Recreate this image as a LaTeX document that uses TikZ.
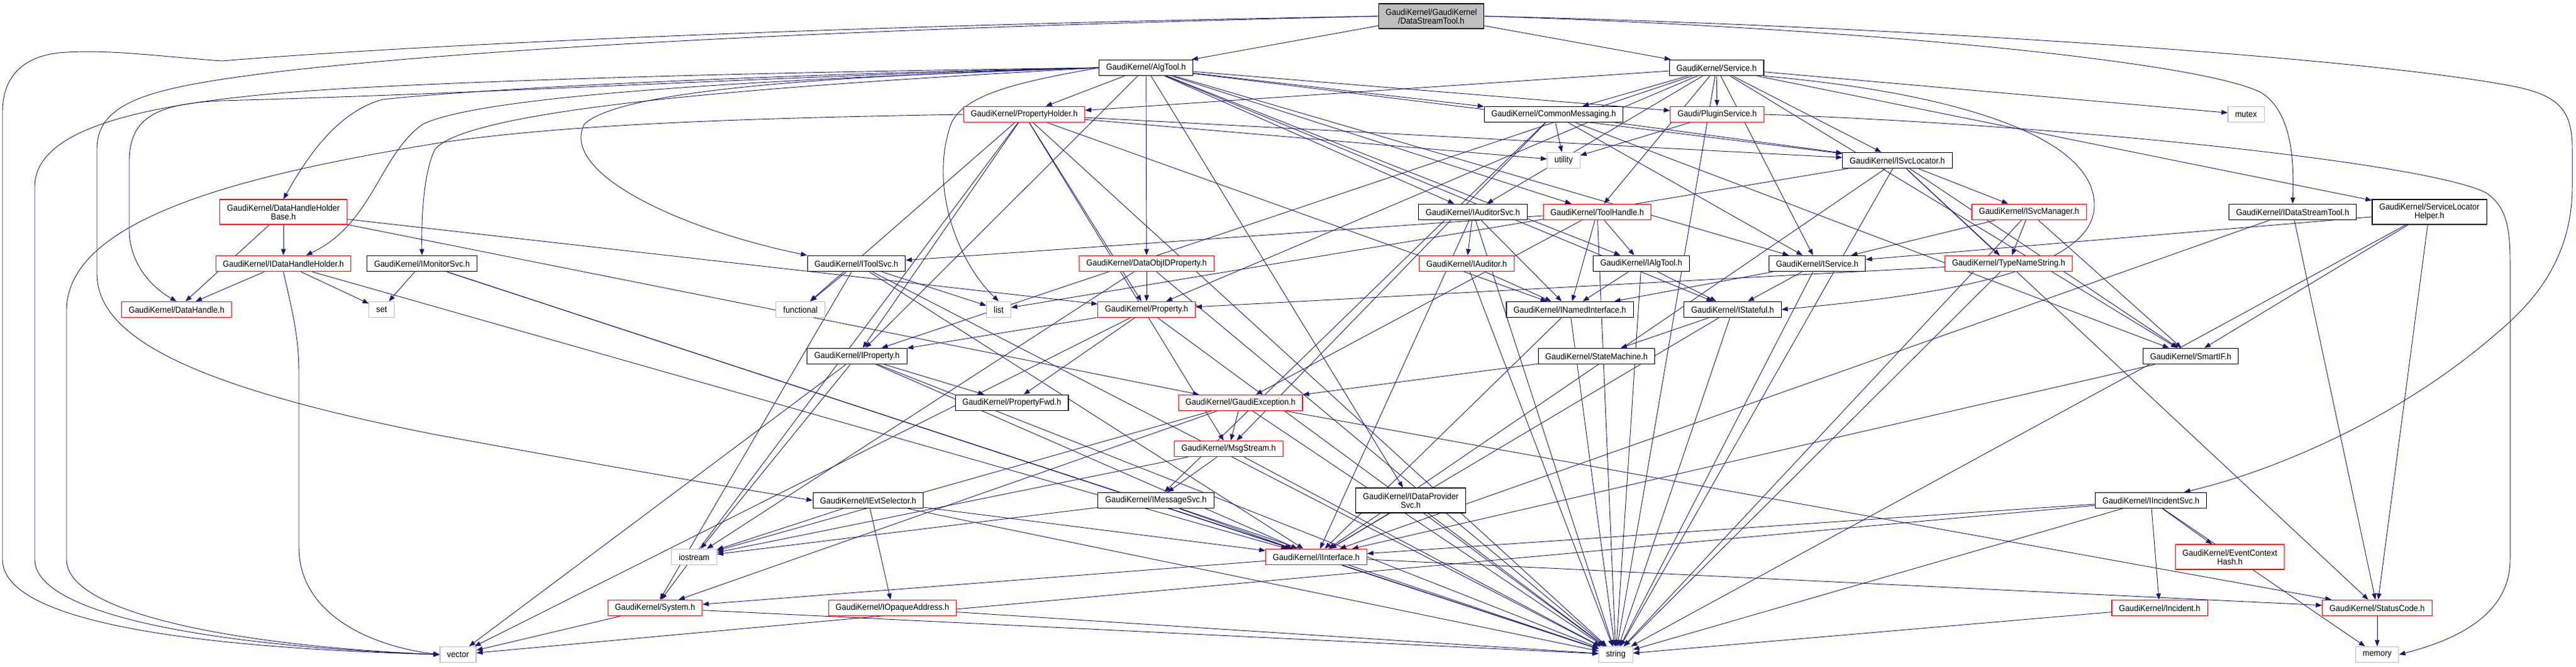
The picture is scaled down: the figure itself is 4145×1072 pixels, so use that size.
\documentclass[tikz,border=0pt]{standalone}
\usepackage{fontspec}
\newfontfamily\dxfont{Liberation Sans}[FakeStretch=0.92]
\usetikzlibrary{arrows.meta,backgrounds}
\definecolor{edgeblue}{RGB}{25,25,112}
\definecolor{sysgray}{RGB}{191,191,191}
\definecolor{rootfill}{RGB}{191,191,191}

\begin{document}
\begin{tikzpicture}[
        x=1pt, y=-1pt,
        hdr/.style={shape=rectangle, draw=black, fill=white, text=black, line width=1.1pt,
          minimum height=25.5pt, inner xsep=11.5pt, inner ysep=0pt, align=center,
          font=\dxfont\fontsize{14}{14}\selectfont},
        hdrred/.style={hdr, draw=red},
        hdrsys/.style={hdr, draw=sysgray},
        hdrroot/.style={hdr, fill=rootfill},
        twoline/.style={minimum height=40pt},
        incl/.style={->, >={Triangle[length=10pt,width=7.5pt]}, line width=0.9pt, edgeblue},
        ]
        \useasboundingbox (0,0) rectangle (4145,1072);
        %
        \node(root)[hdrroot,twoline] at (2303,26) {GaudiKernel/GaudiKernel\\/DataStreamTool.h};
        \node(algtool)[hdr] at (1844,109) {GaudiKernel/AlgTool.h};
        \node(service)[hdr] at (2762,109) {GaudiKernel/Service.h};
        \node(propholder)[hdrred] at (1648,184) {GaudiKernel/PropertyHolder.h};
        \node(commsg)[hdr] at (2500,184) {GaudiKernel/CommonMessaging.h};
        \node(plugin)[hdrred] at (2763,184) {Gaudi/PluginService.h};
        \node(mutex)[hdrsys] at (3614,184) {mutex};
        \node(utility)[hdrsys] at (2516,258) {utility};
        \node(svcloc)[hdr] at (3053,258) {GaudiKernel/ISvcLocator.h};
        \node(dhhbase)[hdrred,twoline] at (456,341) {GaudiKernel/DataHandleHolder\\Base.h};
        \node(audsvc)[hdr] at (2370,341) {GaudiKernel/IAuditorSvc.h};
        \node(toolhandle)[hdrred] at (2570,341) {GaudiKernel/ToolHandle.h};
        \node(svcmgr)[hdrred] at (3265,341) {GaudiKernel/ISvcManager.h};
        \node(idstool)[hdr] at (3689,341) {GaudiKernel/IDataStreamTool.h};
        \node(slhelper)[hdr,twoline] at (3909,341) {GaudiKernel/ServiceLocator\\Helper.h};
        \node(idhholder)[hdrred] at (456,424) {GaudiKernel/IDataHandleHolder.h};
        \node(monsvc)[hdr] at (679,424) {GaudiKernel/IMonitorSvc.h};
        \node(toolsvc)[hdr] at (1378,424) {GaudiKernel/IToolSvc.h};
        \node(dataobjid)[hdrred] at (1845,424) {GaudiKernel/DataObjIDProperty.h};
        \node(auditor)[hdrred] at (2360,424) {GaudiKernel/IAuditor.h};
        \node(ialgtool)[hdr] at (2641,424) {GaudiKernel/IAlgTool.h};
        \node(iservice)[hdr] at (2924,424) {GaudiKernel/IService.h};
        \node(typename)[hdrred] at (3232,424) {GaudiKernel/TypeNameString.h};
        \node(datahandle)[hdrred] at (284,498) {GaudiKernel/DataHandle.h};
        \node(set)[hdrsys] at (614,498) {set};
        \node(functional)[hdrsys] at (1288,498) {functional};
        \node(list)[hdrsys] at (1607,498) {list};
        \node(property)[hdrred] at (1845,498) {GaudiKernel/Property.h};
        \node(named)[hdr] at (2526,498) {GaudiKernel/INamedInterface.h};
        \node(stateful)[hdr] at (2788,498) {GaudiKernel/IStateful.h};
        \node(iproperty)[hdr] at (1379,573) {GaudiKernel/IProperty.h};
        \node(statemach)[hdr] at (2569,573) {GaudiKernel/StateMachine.h};
        \node(smartif)[hdr] at (3525,573) {GaudiKernel/SmartIF.h};
        \node(propfwd)[hdr] at (1628,648) {GaudiKernel/PropertyFwd.h};
        \node(gexcept)[hdrred] at (1996,648) {GaudiKernel/GaudiException.h};
        \node(msgstream)[hdrred] at (1977,722) {GaudiKernel/MsgStream.h};
        \node(evtsel)[hdr] at (1397,805) {GaudiKernel/IEvtSelector.h};
        \node(msgsvc)[hdr] at (1860,805) {GaudiKernel/IMessageSvc.h};
        \node(dataprov)[hdr,twoline] at (2270,805) {GaudiKernel/IDataProvider\\Svc.h};
        \node(incsvc)[hdr] at (3461,805) {GaudiKernel/IIncidentSvc.h};
        \node(iostream)[hdrsys] at (1117,896) {iostream};
        \node(iinterface)[hdrred] at (2118,896) {GaudiKernel/IInterface.h};
        \node(evctxhash)[hdrred,twoline] at (3588,896) {GaudiKernel/EventContext\\Hash.h};
        \node(system)[hdrred] at (1054,978) {GaudiKernel/System.h};
        \node(opaque)[hdrred] at (1436,978) {GaudiKernel/IOpaqueAddress.h};
        \node(statuscode)[hdrred] at (3825,978) {GaudiKernel/StatusCode.h};
        \node(incident)[hdrred] at (3475,978) {GaudiKernel/Incident.h};
        \node(vector)[hdrsys] at (737,1053) {vector};
        \node(string)[hdrsys] at (2600,1053) {string};
        \node(memory)[hdrsys] at (3825,1053) {memory};

        \begin{pgfonlayer}{background}
        % direct includes
        \foreach \a/\b in {root/algtool, root/service,
            algtool/propholder, algtool/commsg, algtool/plugin, algtool/dataobjid, algtool/audsvc,
            algtool/toolhandle, algtool/ialgtool, algtool/iservice, algtool/stateful, algtool/svcloc,
            algtool/iproperty, algtool/dataprov,
            service/propholder, service/commsg, service/plugin, service/svcloc, service/iservice,
            service/audsvc, service/toolhandle, service/property, service/smartif, service/mutex,
            service/slhelper, service/iproperty, service/string,
            propholder/svcloc, propholder/iproperty, propholder/property, propholder/named,
            propholder/utility, propholder/functional, propholder/msgstream, propholder/string,
            propholder/system,
            commsg/utility, commsg/svcloc, commsg/iservice, commsg/smartif, commsg/msgstream,
            commsg/msgsvc,
            plugin/utility,
            svcloc/svcmgr, svcloc/typename, svcloc/iinterface, svcloc/string, svcloc/smartif,
            svcloc/statuscode, svcloc/list,
            dhhbase/datahandle, dhhbase/idhholder, dhhbase/property, dhhbase/gexcept,
            idhholder/datahandle, idhholder/set, idhholder/iinterface,
            monsvc/set, monsvc/iinterface, monsvc/string,
            toolsvc/functional, toolsvc/list, toolsvc/iinterface, toolsvc/string, toolsvc/system,
            dataobjid/property, dataobjid/iostream, dataobjid/string,
            audsvc/auditor, audsvc/named, audsvc/iinterface, audsvc/string,
            toolhandle/toolsvc, toolhandle/ialgtool, toolhandle/named, toolhandle/gexcept,
            toolhandle/string,
            svcmgr/iservice, svcmgr/typename, svcmgr/smartif, svcmgr/string,
            idstool/iinterface, idstool/statuscode,
            slhelper/iservice, slhelper/smartif, slhelper/statuscode, slhelper/string,
            auditor/named, auditor/string,
            ialgtool/named, ialgtool/stateful, ialgtool/string,
            iservice/stateful, iservice/named, iservice/string,
            typename/string, typename/property,
            property/iproperty, property/propfwd, property/string, property/vector,
            named/iinterface, named/string,
            stateful/statemach, stateful/iinterface, stateful/string,
            iproperty/propfwd, iproperty/iinterface, iproperty/string, iproperty/vector,
            iproperty/iostream,
            statemach/gexcept, smartif/iinterface,
            gexcept/msgstream, gexcept/system, gexcept/iostream, gexcept/string, gexcept/statuscode,
            msgstream/msgsvc, msgstream/iostream, msgstream/string,
            evtsel/opaque, evtsel/iinterface, evtsel/string, evtsel/iostream,
            msgsvc/iinterface, msgsvc/string, msgsvc/iostream,
            dataprov/iinterface, dataprov/string,
            incsvc/evctxhash, incsvc/incident, incsvc/iinterface, incsvc/vector, incsvc/string,
            incsvc/memory,
            iinterface/system, iinterface/statuscode, iinterface/string,
            system/vector, system/string, opaque/string, statuscode/memory, incident/string}
          \draw[incl] (\a) -- (\b);
        % routed round the left side
        \draw[incl] (root.west) .. controls (1400,40) and (700,70) .. (357,98)
          .. controls (250,90) and (180,80) .. (107,84) .. controls (30,88) and (4,130) .. (4,180)
          -- (4,900) .. controls (4,990) and (250,1040) .. (vector.west);
        \draw[incl] (root.west) .. controls (1400,45) and (800,75) .. (450,115)
          .. controls (250,140) and (156,160) .. (156,240) -- (156,440)
          .. controls (156,540) and (300,620) .. (700,699) .. controls (950,745) and (1150,780) .. (evtsel.west);
        \draw[incl] (algtool.west) .. controls (1300,115) and (900,125) .. (600,140)
          .. controls (300,155) and (56,190) .. (56,300) -- (56,900)
          .. controls (56,990) and (350,1040) .. (vector.west);
        \draw[incl] (propholder.west) .. controls (1200,190) and (900,200) .. (700,231)
          .. controls (400,280) and (107,350) .. (107,500) -- (107,900)
          .. controls (107,990) and (400,1040) .. (vector.west);
        \draw[incl] (idhholder.south) .. controls (470,500) and (481,540) .. (481,600) -- (481,880)
          .. controls (481,990) and (600,1040) .. (vector.west);
        \draw[incl] (algtool.west) .. controls (1300,120) and (800,150) .. (357,162)
          .. controls (250,167) and (208,190) .. (208,260) -- (208,370)
          .. controls (208,420) and (240,460) .. (datahandle.north);
        \draw[incl] (algtool.west) .. controls (1300,118) and (800,140) .. (616,160)
          .. controls (540,180) and (490,260) .. (dhhbase.north);
        \draw[incl] (algtool.west) .. controls (1300,125) and (780,150) .. (680,200)
          .. controls (610,250) and (600,360) .. (idhholder.20);
        \draw[incl] (algtool.west) .. controls (1300,135) and (760,170) .. (700,240)
          .. controls (680,280) and (678,360) .. (monsvc.north);
        \draw[incl] (algtool.west) .. controls (1400,120) and (1000,140) .. (940,200)
          .. controls (900,280) and (1100,370) .. (toolsvc.north west);
        \draw[incl] (algtool.west) .. controls (1650,130) and (1550,150) .. (1530,200)
          .. controls (1495,300) and (1540,420) .. (list.north);
        % routed round the right side
        \draw[incl] (root.east) .. controls (3000,45) and (3550,100) .. (3640,150)
          .. controls (3685,180) and (3692,250) .. (idstool.north);
        \draw[incl] (root.east) .. controls (3000,40) and (3800,90) .. (4050,140)
          .. controls (4120,155) and (4139,180) .. (4139,240) -- (4139,300)
          .. controls (4139,430) and (4060,500) .. (4013,540)
          .. controls (3850,680) and (3650,760) .. (incsvc.14);
        \draw[incl] (service.south east) .. controls (3150,150) and (3370,220) .. (3370,330)
          .. controls (3370,450) and (3050,480) .. (stateful.east);
        \draw[incl] (plugin.east) .. controls (3300,200) and (3900,260) .. (4000,310)
          .. controls (4030,330) and (4039,360) .. (4039,420) -- (4039,900)
          .. controls (4039,990) and (3950,1030) .. (memory.east);
        \end{pgfonlayer}
      \end{tikzpicture}
\end{document}
